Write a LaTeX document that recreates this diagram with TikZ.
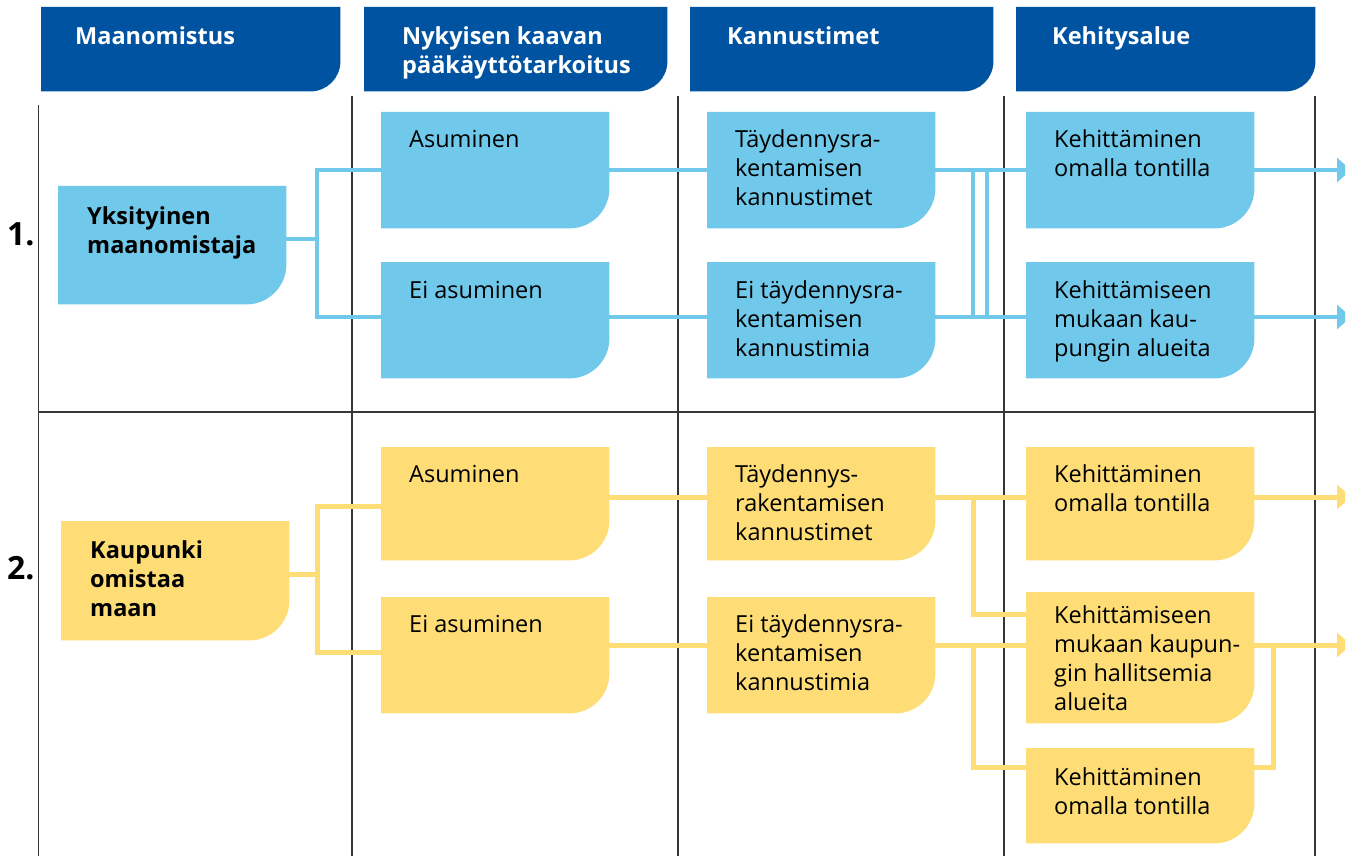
\documentclass[tikz,border=0pt]{standalone}
\usepackage{fontspec}
\setmainfont{Open Sans}
\usepackage{tikz}
\usetikzlibrary{calc}
\usetikzlibrary{backgrounds, arrows.meta}

\definecolor{headblue}{RGB}{0,83,160}
\definecolor{skyblue}{RGB}{112,201,234}
\definecolor{sunyellow}{RGB}{254,221,118}
\definecolor{gridgrey}{RGB}{55,55,55}

\newcommand{\bodyfont}{\fontsize{23.5}{29}\selectfont}
\newcommand{\cellpar}[3]{\hspace*{#1pt}\parbox[t]{#2pt}{\raggedright #3}}
\newcommand{\cellfill}[3]{\fill[#2] (#1.north west) -- (#1.north east) -- ($(#1.south east)+(0,-#3)$) arc[start angle=0,end angle=90,radius=#3] -- (#1.south west) -- cycle;}

\tikzset{
  cell/.style={anchor=north west, inner sep=0pt, text height=35pt, text depth=#1, font=\bodyfont},
  headcell/.style={cell=#1, text height=37pt, text=white, font=\bodyfont\bfseries},
  owner/.style={cell=#1, font=\bodyfont\bfseries},
  rownum/.style={anchor=base west, inner sep=0pt, font=\fontsize{32}{38}\selectfont\bfseries},
  grid/.style={draw=gridgrey, line width=1.3pt},
  bline/.style={draw=skyblue, line width=3.2pt},
  yline/.style={draw=sunyellow, line width=5pt},
  barrow/.style={bline, -{Triangle[width=24pt,length=14pt]}},
  yarrow/.style={yline, -{Triangle[width=24pt,length=14pt]}}
}

\begin{document}
\begin{tikzpicture}[x=1pt,y=1pt,yscale=-1,xscale=1]
            \useasboundingbox (0,0) rectangle (1358,856);

            % Header Nodes
            \node[headcell=47pt] (h1) at (41,7) {\cellpar{34}{265}{Maanomistus}};
            \node[headcell=47pt] (h2) at (364,7) {\cellpar{38}{265}{Nykyisen kaavan\\pääkäyttötarkoitus}};
            \node[headcell=47pt] (h3) at (690,7) {\cellpar{37}{266}{Kannustimet}};
            \node[headcell=47pt] (h4) at (1016,7) {\cellpar{36}{263}{Kehitysalue}};

            % Text Node
            \node[rownum] (row1) at (7,245) {1.};
            \node[rownum] (row2) at (7,579) {2.};

            % Row 1 Nodes
            \node[owner=80pt, text height=38pt] (yks) at (58,186) {\cellpar{29}{199}{Yksityinen\\maanomistaja}};
            \node[cell=81pt] (as1) at (381,112) {\cellpar{28}{200}{Asuminen}};
            \node[cell=80pt, text height=36pt] (eias1) at (381,262) {\cellpar{28}{200}{Ei asuminen}};
            \node[cell=81pt] (td1) at (707,112) {\cellpar{28}{200}{Täydennysra-\\kentamisen\\kannustimet}};
            \node[cell=80pt, text height=36pt] (eitd1) at (707,262) {\cellpar{28}{200}{Ei täydennysra-\\kentamisen\\kannustimia}};
            \node[cell=81pt] (ke1) at (1026,112) {\cellpar{28}{200}{Kehittäminen\\omalla tontilla}};
            \node[cell=80pt, text height=36pt] (km1) at (1026,262) {\cellpar{28}{200}{Kehittämiseen\\mukaan kau-\\pungin alueita}};

            % Row 2 Nodes
            \node[owner=82pt, text height=37pt] (kau) at (61,521) {\cellpar{29}{199}{Kaupunki\\omistaa\\maan}};
            \node[cell=78pt] (as2) at (381,447) {\cellpar{28}{200}{Asuminen}};
            \node[cell=81pt] (eias2) at (381,597) {\cellpar{28}{200}{Ei asuminen}};
            \node[cell=78pt] (td2) at (707,447) {\cellpar{28}{200}{Täydennys-\\rakentamisen\\kannustimet}};
            \node[cell=81pt] (eitd2) at (707,597) {\cellpar{28}{200}{Ei täydennysra-\\kentamisen\\kannustimia}};
            \node[cell=78pt] (ke2) at (1026,447) {\cellpar{28}{200}{Kehittäminen\\omalla tontilla}};
            \node[cell=100pt, text height=31pt] (km2) at (1026,592) {\cellpar{28}{200}{Kehittämiseen\\mukaan kaupun-\\gin hallitsemia\\alueita}};
            \node[cell=58pt, text height=37pt] (kb2) at (1026,748) {\cellpar{28}{200}{Kehittäminen\\omalla tontilla}};

            % Shapes behind the nodes
            \begin{scope}[on background layer]
            \draw[grid] (38.5,105) -- (38.5,856);
            \foreach \gx in {352,678,1004,1315}
              \draw[grid] (\gx,96) -- (\gx,856);
            \draw[grid] (38.5,412) -- (1315,412);
            \foreach \n in {h1,h2,h3,h4}
              \cellfill{\n}{headblue}{30};
            \foreach \n in {yks,as1,eias1,td1,eitd1,ke1,km1}
              \cellfill{\n}{skyblue}{40};
            \foreach \n in {kau,as2,eias2,td2,eitd2,ke2,km2,kb2}
              \cellfill{\n}{sunyellow}{40};
            \end{scope}

            % Rails and buses
            \coordinate (y1) at (0,239);
            \coordinate (y2) at (0,170);
            \coordinate (y3) at (0,317);
            \coordinate (z1) at (0,574);
            \coordinate (z2) at (0,506);
            \coordinate (z3) at (0,652);
            \coordinate (z4) at (0,497);
            \coordinate (z5) at (0,645);
            \coordinate (z6) at (0,614);
            \coordinate (z7) at (0,767);
            \coordinate (b1) at (317,0);
            \coordinate (b2) at (973,0);
            \coordinate (b3) at (987,0);
            \coordinate (b4) at (1273,0);
            \coordinate (tip) at (1351,0);

            %Straight Lines (row 1)
            \draw[bline] (yks.east |- y1) -- (b1 |- y1);
            \draw[bline] (as1.west |- y2) -| (b1 |- y3) -- (eias1.west |- y3);
            \draw[bline] (as1.east |- y2) -- (td1.west |- y2);
            \draw[bline] (eias1.east |- y3) -- (eitd1.west |- y3);
            \draw[bline] (td1.east |- y2) -- (ke1.west |- y2);
            \draw[bline] (eitd1.east |- y3) -- (km1.west |- y3);
            \draw[bline] (b2 |- y2) -- (b2 |- y3);
            \draw[bline] (b3 |- y2) -- (b3 |- y3);

            %Straight Lines (row 2)
            \draw[yline] (kau.east |- z1) -- (b1 |- z1);
            \draw[yline] (as2.west |- z2) -| (b1 |- z3) -- (eias2.west |- z3);
            \draw[yline] (as2.east |- z4) -- (td2.west |- z4);
            \draw[yline] (eias2.east |- z5) -- (eitd2.west |- z5);
            \draw[yline] (td2.east |- z4) -- (ke2.west |- z4);
            \draw[yline] (b2 |- z4) |- (km2.west |- z6);
            \draw[yline] (eitd2.east |- z5) -- (km2.west |- z5);
            \draw[yline] (b2 |- z5) |- (kb2.west |- z7);
            \draw[yline] (b4 |- z5) |- (kb2.east |- z7);

            % Arrows out of the picture
            \begin{scope}
            \clip (0,0) rectangle (1345,856);
            \draw[barrow] (ke1.east |- y2) -- (tip |- y2);
            \draw[barrow] (km1.east |- y3) -- (tip |- y3);
            \draw[yarrow] (ke2.east |- z4) -- (tip |- z4);
            \draw[yarrow] (km2.east |- z5) -- (tip |- z5);
            \end{scope}

\end{tikzpicture}
\end{document}
